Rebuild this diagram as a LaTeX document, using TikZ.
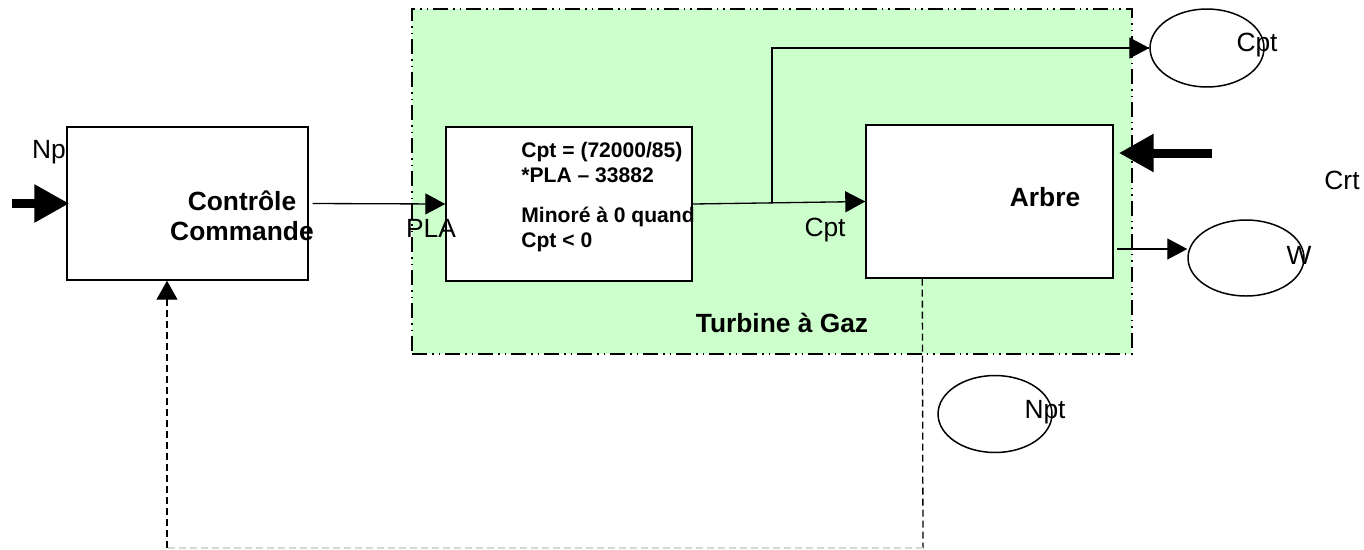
\documentclass[tikz,border=0pt]{standalone}
\usepackage{fontspec}
\setmainfont{Liberation Sans}
\usepackage{tikz}
\usetikzlibrary{shapes.geometric,arrows.meta,positioning,calc}
\definecolor{paleg}{RGB}{204,255,204}
\definecolor{fbgray}{RGB}{215,215,215}
\tikzset{
  blk/.style={rectangle,draw=black,line width=0.85pt,fill=white,inner sep=0pt},
  oval/.style={ellipse,draw=black,line width=0.85pt,inner sep=0pt},
  zone/.style={rectangle,fill=paleg,draw=black,line width=1pt,inner sep=0pt,
              dash pattern=on 0.3cm off 0.1cm on 0.03cm off 0.1cm on 0.03cm off 0.1cm},
  lbl/.style={inner sep=0pt,font=\fontsize{15}{17}\selectfont},
  title/.style={inner sep=0pt,align=center,font=\fontsize{15}{17}\selectfont\bfseries},
  flow/.style={-{Triangle[length=0.4cm,width=0.42cm]},line width=0.75pt},
  bigflow/.style={-{Triangle[length=0.7cm,width=0.72cm]},line width=0.18cm},
  fb/.style={line width=0.75pt,dash pattern=on 0.14cm off 0.08cm},
}
\begin{document}
\begin{tikzpicture}[x=0.02cm,y=-0.02cm]
  \useasboundingbox (0,0) rectangle (1364,549);
  % zone turbine
  \node[zone,minimum width=14.4cm,minimum height=6.9cm] (tag) at (772,181.5) {};
  \node[title] (tagtxt) at (782,323) {Turbine à Gaz};

  % blocs
  \node[blk,minimum width=4.82cm,minimum height=3.06cm] (ctrl) at (187.5,203.5) {};
  \node[title] (ctrltxt) at (242,216) {Contrôle\\Commande};
  \node[blk,minimum width=4.92cm,minimum height=3.08cm] (formule) at (569,204) {};
  \node[inner sep=0pt,anchor=west,align=left,font=\fontsize{12}{14.2}\selectfont\bfseries]
    (formtxt) at (521,197) {Cpt = (72000/85)\\*PLA – 33882\\[0.3cm]Minoré à 0 quand\\Cpt < 0};
  \node[blk,minimum width=4.94cm,minimum height=3.06cm] (arbre) at (989.5,201.5) {};
  \node[title] (arbretxt) at (1045,197) {Arbre};

  % sorties
  \node[oval,minimum width=2.28cm,minimum height=1.56cm] (cptov) at (1207,48) {};
  \node[oval,minimum width=2.32cm,minimum height=1.52cm] (wov) at (1246,258) {};
  \node[oval,minimum width=2.28cm,minimum height=1.54cm] (nptov) at (995,414) {};

  % labels
  \node[lbl] (np) at (49,152) {Np};
  \node[lbl] (pla) at (431,228) {PLA};
  \node[lbl] (cpt) at (825,230) {Cpt};
  \node[lbl] (cptout) at (1257,45) {Cpt};
  \node[lbl] (wout) at (1299,255) {W};
  \node[lbl] (nptout) at (1045,412) {Npt};
  \node[lbl] (crt) at (1342,180) {Crt};

  % fleches
  \coordinate (npin) at (12,203.5);
  \coordinate (crtin) at (1212,153);
  \coordinate (br) at (772,203);
  \coordinate (wsrc) at (1117,249);
  \draw[bigflow] (npin) -- ([xshift=0.06cm]ctrl.west);
  \draw[bigflow] (crtin) -- ([xshift=0.1cm]arbre.east |- crtin);
  \draw[flow] ([xshift=0.08cm]ctrl.east) -- (formule.west);
  \draw[flow] (formule.east) -- (arbre.west);
  \draw[line width=0.75pt] (br) |- (cptov.west) ;
  \draw[flow] (br |- cptov.west) -- (cptov.west);
  \draw[flow] (wsrc) -- (wsrc -| wov.west);

  % retour Npt
  \coordinate (fbr) at (923,548);
  \coordinate (fbl) at (167,548);
  \draw[fb] ([xshift=1.14cm]arbre.south west) -- (fbr);
  \draw[fb,draw=fbgray] (fbr) -- (fbl);
  \draw[fb,-{Triangle[length=0.38cm,width=0.42cm]}] (fbl) -- (fbl |- ctrl.south);
\end{tikzpicture}
\end{document}
